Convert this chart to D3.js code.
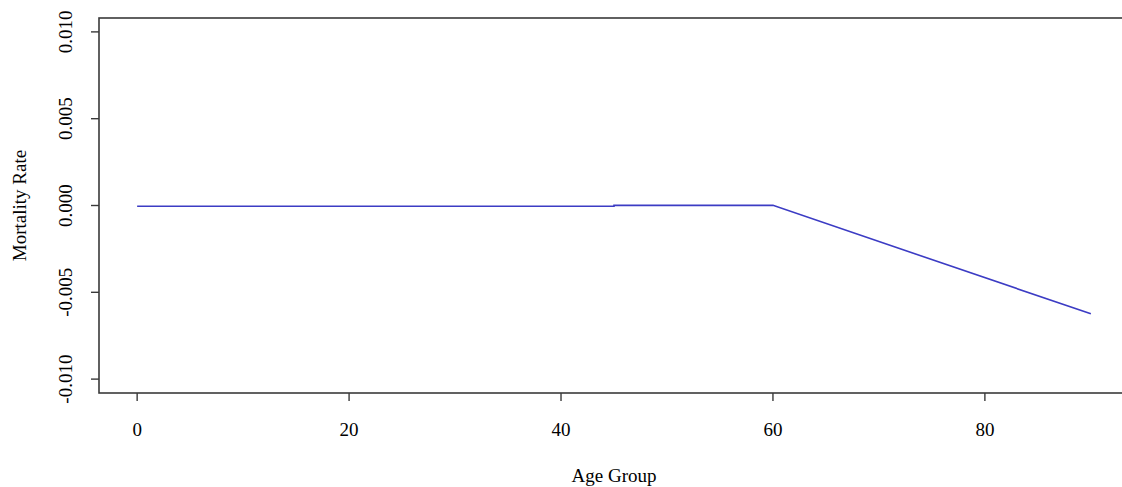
<!DOCTYPE html>
<html>
<head>
<meta charset="utf-8">
<script src="https://cdn.jsdelivr.net/npm/d3@7"></script>
<style>
  html, body { margin: 0; padding: 0; background: #fff; }
  svg { display: block; }
  text { font-family: "Liberation Serif", "DejaVu Serif", serif; fill: #000; }
</style>
</head>
<body>
<svg id="chart" width="1122" height="487"></svg>
<script>
const ages = [0, 45, 45, 60, 90];
const rates = [-0.00004, -0.00004, 0.00001, 0.00001, -0.00624];
const xTicks = [0, 20, 40, 60, 80];
const yTicks = [-0.010, -0.005, 0.000, 0.005, 0.010];
const xTitle = "Age Group";
const yTitle = "Mortality Rate";

const svg = d3.select("#chart");
const pLeft = 99, pRight = 1129, pTop = 18, pBottom = 393;

const x = d3.scaleLinear().domain([-3.6, 93.6]).range([pLeft, pRight]);
const y = d3.scaleLinear().domain([-0.0108, 0.0108]).range([pBottom, pTop]);

const frameColor = "#3a3a3a";

// line
const line = d3.line().x((d, i) => x(ages[i])).y((d, i) => y(rates[i]));
svg.append("path")
  .attr("d", line(rates))
  .attr("fill", "none")
  .attr("stroke", "#3c3cc4")
  .attr("stroke-width", 1.6);

// frame
svg.append("rect")
  .attr("x", pLeft).attr("y", pTop)
  .attr("width", pRight - pLeft).attr("height", pBottom - pTop)
  .attr("fill", "none")
  .attr("stroke", frameColor)
  .attr("stroke-width", 1.6);

// x axis
const xAxis = svg.append("g");
xAxis.selectAll("line").data(xTicks).enter().append("line")
  .attr("x1", d => x(d)).attr("x2", d => x(d))
  .attr("y1", pBottom).attr("y2", pBottom + 8)
  .attr("stroke", frameColor).attr("stroke-width", 1.4);
xAxis.selectAll("text").data(xTicks).enter().append("text")
  .attr("x", d => x(d)).attr("y", 436)
  .attr("text-anchor", "middle")
  .attr("font-size", 19)
  .text(d => d3.format("d")(d));

// y axis
const yAxis = svg.append("g");
yAxis.selectAll("line").data(yTicks).enter().append("line")
  .attr("x1", pLeft - 8).attr("x2", pLeft)
  .attr("y1", d => y(d)).attr("y2", d => y(d))
  .attr("stroke", frameColor).attr("stroke-width", 1.4);
yAxis.selectAll("text").data(yTicks).enter().append("text")
  .attr("transform", d => `translate(72,${y(d)}) rotate(-90)`)
  .attr("text-anchor", "middle")
  .attr("font-size", 19)
  .text(d => d3.format(".3f")(d).replace("−", "-"));

// titles
svg.append("text")
  .attr("x", x(45)).attr("y", 482)
  .attr("text-anchor", "middle")
  .attr("font-size", 19)
  .text(xTitle);
svg.append("text")
  .attr("transform", `translate(26,${y(0)}) rotate(-90)`)
  .attr("text-anchor", "middle")
  .attr("font-size", 19)
  .text(yTitle);
</script>
</body>
</html>
